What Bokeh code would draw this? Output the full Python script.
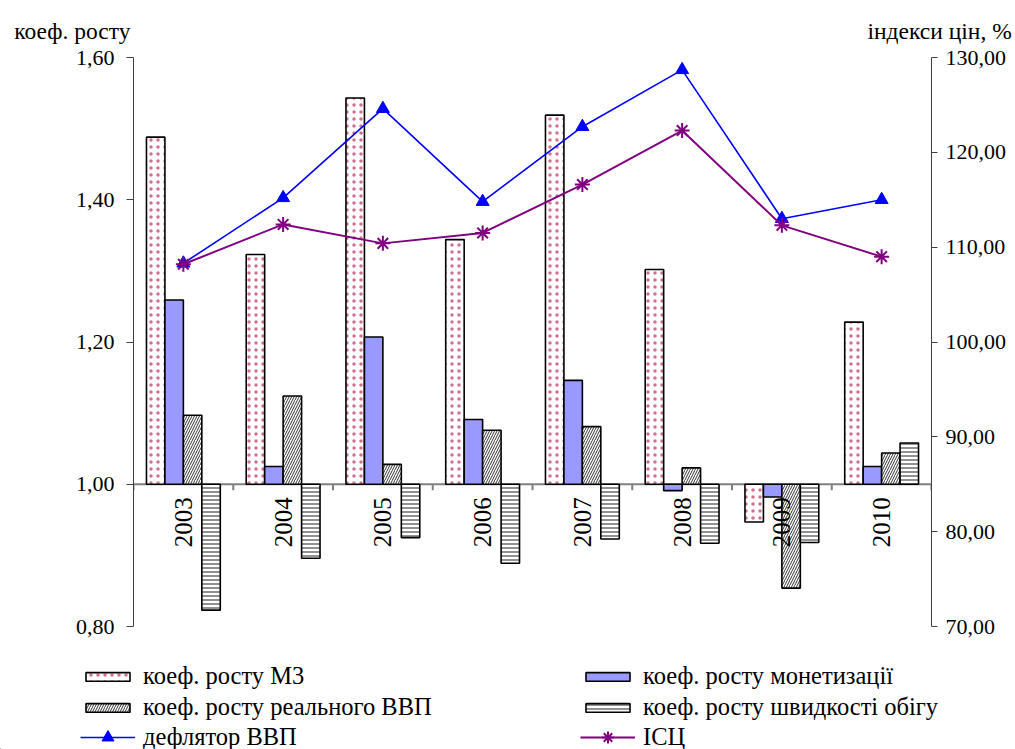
import numpy as np
from bokeh.plotting import figure
from bokeh.layouts import column
from bokeh.models import (Range1d, LinearAxis, FixedTicker, Span, Legend,
                          LegendItem, CustomJSTickFormatter)
from bokeh.core.properties import value
from bokeh.embed import file_html
from bokeh.resources import INLINE

years = ["2003", "2004", "2005", "2006", "2007", "2008", "2009", "2010"]
m3_growth = [1.488, 1.323, 1.543, 1.344, 1.519, 1.302, 0.947, 1.228]
monet_growth = [1.259, 1.025, 1.207, 1.091, 1.146, 0.991, 0.982, 1.025]
real_gdp_growth = [1.097, 1.124, 1.028, 1.076, 1.081, 1.023, 0.854, 1.044]
velocity_growth = [0.823, 0.896, 0.925, 0.889, 0.923, 0.917, 0.918, 1.058]
gdp_deflator = [108.3, 115.2, 124.6, 114.8, 122.7, 128.7, 113.0, 115.0]
cpi = [108.2, 112.4, 110.4, 111.5, 116.6, 122.3, 112.3, 109.0]

left_ticks = [0.8, 1.0, 1.2, 1.4, 1.6]
right_ticks = [70, 80, 90, 100, 110, 120, 130]
left_title = "коеф. росту"
right_title = "індекси цін, %"
series_labels = ["коеф. росту М3", "коеф. росту монетизації",
                 "коеф. росту реального ВВП", "коеф. росту швидкості обігу",
                 "дефлятор ВВП", "ІСЦ"]

FONT = "Liberation Serif"
W, H = 1015, 749
TOP_H = 45
BL, BR, BT, BB = 133, 84, 12, 14
FRAME_H = 569
MAIN_H = BT + FRAME_H + BB
LEG_H = H - TOP_H - MAIN_H

n = len(years)
centers = np.arange(n) + 0.5
bw = 0.185
offsets = [-1.5 * bw, -0.5 * bw, 0.5 * bw, 1.5 * bw]

bar_common = dict(line_color="black", line_width=1.6)
sty_m3 = dict(fill_color="white", hatch_pattern="dot", hatch_color="#d0708f",
              hatch_scale=7, hatch_weight=0.7, **bar_common)
sty_mon = dict(fill_color="#9999ff", **bar_common)
sty_gdp = dict(fill_color="white", hatch_pattern="right_diagonal_line", hatch_color="#333333",
               hatch_scale=5, hatch_weight=1, **bar_common)
sty_vel = dict(fill_color="white", hatch_pattern="horizontal_line", hatch_color="#555555",
               hatch_scale=4, hatch_weight=1.3, **bar_common)
sty_defl_l = dict(line_color="#0000ff", line_width=1.6)
sty_defl_m = dict(marker="triangle", size=13, fill_color="#0000ff", line_color="#0000ff")
sty_cpi_l = dict(line_color="#800080", line_width=2)
sty_cpi_m = dict(marker="asterisk", size=15, line_color="#800080", line_width=2)


def strip(height, xr, yr):
    f = figure(width=W, height=height, output_backend="svg", toolbar_location=None,
               x_range=xr, y_range=yr, x_axis_location=None, y_axis_location=None,
               min_border=0, min_border_left=0, min_border_right=0,
               min_border_top=0, min_border_bottom=0)
    f.frame_align = False
    f.grid.visible = False
    f.outline_line_color = None
    return f


# ---------- top strip with the axis titles ----------
top = strip(TOP_H, Range1d(0, W), Range1d(0, TOP_H))
top.text(x=[BL - 3], y=[15], text=[left_title], text_align="right", text_baseline="alphabetic",
         text_font=value(FONT), text_font_size="23.5px", text_color="black")
top.text(x=[W - BR - 64], y=[15], text=[right_title], text_align="left",
         text_baseline="alphabetic", text_font=value(FONT), text_font_size="23.5px",
         text_color="black")

# ---------- main chart ----------
p = figure(width=W, height=MAIN_H, output_backend="svg", toolbar_location=None,
           x_range=Range1d(0, n), y_range=Range1d(left_ticks[0], left_ticks[-1]),
           x_axis_location=None,
           min_border_left=BL, min_border_right=BR, min_border_top=BT, min_border_bottom=BB)
p.frame_align = False
p.grid.visible = False
p.outline_line_color = None

fmt = CustomJSTickFormatter(code="return tick.toFixed(2).replace('.', ',');")

ya = p.yaxis[0]
ya.ticker = FixedTicker(ticks=left_ticks)
ya.formatter = fmt
ya.major_tick_in = 0
ya.major_tick_out = 7
ya.minor_tick_line_color = None
ya.major_label_standoff = 12
ya.axis_line_color = "#404040"
ya.major_tick_line_color = "#404040"
ya.major_label_text_font = FONT
ya.major_label_text_font_size = "22px"
ya.major_label_text_color = "black"

p.extra_y_ranges = {"right": Range1d(right_ticks[0], right_ticks[-1])}
ra = LinearAxis(y_range_name="right", ticker=FixedTicker(ticks=right_ticks), formatter=fmt)
ra.major_tick_in = 0
ra.major_tick_out = 6
ra.minor_tick_line_color = None
ra.major_label_standoff = 8
ra.axis_line_color = "#404040"
ra.major_tick_line_color = "#404040"
ra.major_label_text_font = FONT
ra.major_label_text_font_size = "22px"
ra.major_label_text_color = "black"
p.add_layout(ra, "right")

p.add_layout(Span(location=1.0, dimension="width", line_color="#808080",
                  line_width=2, level="underlay"))
tick_len = 6 / FRAME_H * (left_ticks[-1] - left_ticks[0])
bounds = np.arange(n + 1)
p.segment(x0=bounds, y0=1.0, x1=bounds, y1=1.0 - tick_len, line_color="#808080", line_width=2)

p.vbar(x=centers + offsets[0], top=m3_growth, width=bw, bottom=1.0, **sty_m3)
p.vbar(x=centers + offsets[1], top=monet_growth, width=bw, bottom=1.0, **sty_mon)
p.vbar(x=centers + offsets[2], top=real_gdp_growth, width=bw, bottom=1.0, **sty_gdp)
p.vbar(x=centers + offsets[3], top=velocity_growth, width=bw, bottom=1.0, **sty_vel)

p.text(x=centers, y=[1.0] * n, text=years, angle=np.pi / 2, text_align="right",
       text_baseline="middle", y_offset=13, text_font=value(FONT),
       text_font_size="25px", text_color="black")

p.line(centers, gdp_deflator, y_range_name="right", **sty_defl_l)
p.scatter(centers, gdp_deflator, y_range_name="right", **sty_defl_m)
p.line(centers, cpi, y_range_name="right", **sty_cpi_l)
p.scatter(centers, cpi, y_range_name="right", **sty_cpi_m)

# ---------- legend strip (proxy glyphs lie outside the visible range) ----------
lg = strip(LEG_H, Range1d(0, 1), Range1d(0, 1))
ox, oy = [-5.0], [-5.0]
d_m3 = lg.vbar(x=ox, top=oy, width=0.1, **sty_m3)
d_mon = lg.vbar(x=ox, top=oy, width=0.1, **sty_mon)
d_gdp = lg.vbar(x=ox, top=oy, width=0.1, **sty_gdp)
d_vel = lg.vbar(x=ox, top=oy, width=0.1, **sty_vel)
d_dl = lg.line(x=ox * 2, y=oy * 2, **sty_defl_l)
d_dm = lg.scatter(x=ox, y=oy, **sty_defl_m)
d_cl = lg.line(x=ox * 2, y=oy * 2, **sty_cpi_l)
d_cm = lg.scatter(x=ox, y=oy, **sty_cpi_m)

leg_common = dict(orientation="horizontal", ncols=2, padding=0, margin=0,
                  border_line_alpha=0, background_fill_alpha=0, glyph_width=55,
                  label_standoff=8, label_text_font=FONT, label_text_font_size="24.5px",
                  label_text_color="black")
bar_items = [
    LegendItem(label=series_labels[0], renderers=[d_m3]),
    LegendItem(label=series_labels[1], renderers=[d_mon]),
    LegendItem(label=series_labels[2], renderers=[d_gdp]),
    LegendItem(label=series_labels[3], renderers=[d_vel]),
]
line_items = [
    LegendItem(label=series_labels[4], renderers=[d_dl, d_dm]),
    LegendItem(label=series_labels[5], renderers=[d_cl, d_cm]),
]
leg1 = Legend(items=bar_items, location=(80, 28), glyph_height=11, label_height=28,
              spacing=3, label_width=434, **leg_common)
leg2 = Legend(items=line_items, location=(80, -3), glyph_height=30, label_height=30,
              spacing=8, label_width=429, **leg_common)
lg.add_layout(leg1, "center")
lg.add_layout(leg2, "center")

layout = column(top, p, lg, spacing=0)
open("out.html", "w").write(file_html(layout, INLINE))
